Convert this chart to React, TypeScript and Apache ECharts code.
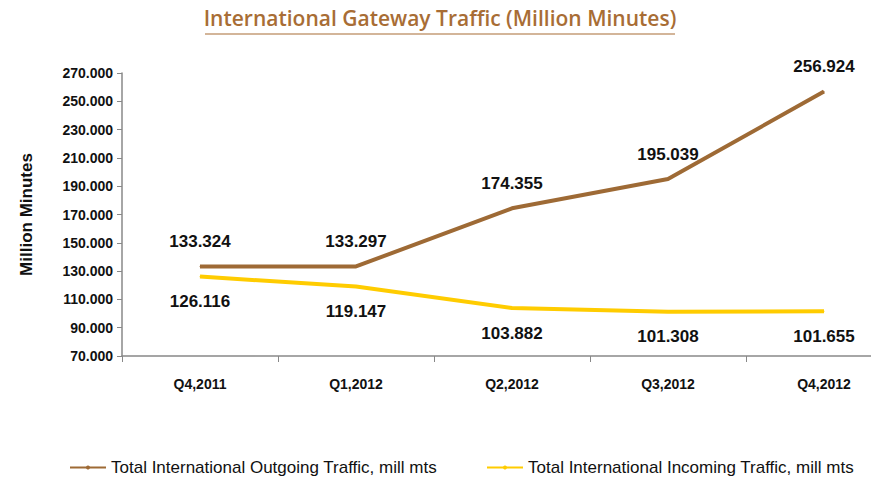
import React, { useEffect, useRef } from "react";
import * as echarts from "echarts";

const categories = ["Q4,2011", "Q1,2012", "Q2,2012", "Q3,2012", "Q4,2012"];
const outgoing = [133.324, 133.297, 174.355, 195.039, 256.924];
const incoming = [126.116, 119.147, 103.882, 101.308, 101.655];
const seriesNames = [
  "Total International Outgoing Traffic, mill mts",
  "Total International Incoming Traffic, mill mts",
];
const titleText = "International Gateway Traffic (Million Minutes)";
const yAxisName = "Million Minutes";

const FONT = "'Liberation Sans', Arial, sans-serif";
const BROWN = "#9E6A35";
const YELLOW = "#FFCC00";

export default function App() {
  const ref = useRef<HTMLDivElement>(null);
  useEffect(() => {
    if (!ref.current) return;
    const chart = echarts.init(ref.current, undefined, { renderer: "svg" });
    const fmt = (v: number) => v.toFixed(3);
    const legendText = { fontFamily: FONT, fontSize: 17, color: "#111" };
    const legendCommon = {
      top: 454,
      itemWidth: 36,
      itemHeight: 5,
      itemGap: 0,
      lineStyle: { width: 2 },
      textStyle: legendText,
    };
    chart.setOption({
      animation: false,
      backgroundColor: "#ffffff",
      graphic: [
        {
          type: "text",
          x: 440,
          y: 7,
          style: {
            text: titleText,
            fill: "#A86D35",
            font: "600 21px 'Open Sans', sans-serif",
            textAlign: "center",
          },
        },
        {
          type: "line",
          shape: { x1: 205, y1: 34, x2: 675, y2: 34 },
          style: { stroke: "#A86D35", lineWidth: 1.2 },
        },
      ],
      grid: { left: 122, right: 8, top: 73, bottom: 122, containLabel: false },
      legend: [
        { ...legendCommon, left: 64, data: [seriesNames[0]] },
        { ...legendCommon, left: 481, data: [seriesNames[1]] },
      ],
      xAxis: {
        type: "category",
        data: categories,
        boundaryGap: true,
        axisLine: { lineStyle: { color: "#888", width: 1.5 } },
        axisTick: { show: true, length: 6, lineStyle: { color: "#888" } },
        axisLabel: {
          fontFamily: FONT,
          fontWeight: "bold",
          fontSize: 14,
          color: "#111",
          margin: 21,
        },
      },
      yAxis: {
        type: "value",
        min: 70,
        max: 270,
        interval: 20,
        name: yAxisName,
        nameLocation: "middle",
        nameGap: 87,
        nameRotate: 90,
        nameTextStyle: { fontFamily: FONT, fontWeight: "bold", fontSize: 17, color: "#111" },
        axisLine: { show: true, lineStyle: { color: "#888", width: 1.5 } },
        axisTick: { show: true, length: 5, lineStyle: { color: "#888" } },
        splitLine: { show: false },
        axisLabel: {
          formatter: (v: number) => fmt(v),
          fontFamily: FONT,
          fontWeight: "bold",
          fontSize: 14,
          color: "#111",
          margin: 9,
        },
      },
      series: [
        {
          name: seriesNames[0],
          type: "line",
          data: outgoing,
          symbol: "circle",
          symbolSize: 1,
          showSymbol: true,
          lineStyle: { color: BROWN, width: 4 },
          itemStyle: { color: BROWN },
          label: {
            show: true,
            position: "top",
            distance: 16,
            formatter: (p: any) => fmt(p.value),
            fontFamily: FONT,
            fontWeight: "bold",
            fontSize: 17,
            color: "#111",
          },
        },
        {
          name: seriesNames[1],
          type: "line",
          data: incoming,
          symbol: "circle",
          symbolSize: 1,
          showSymbol: true,
          lineStyle: { color: YELLOW, width: 4 },
          itemStyle: { color: YELLOW },
          label: {
            show: true,
            position: "bottom",
            distance: 16,
            formatter: (p: any) => fmt(p.value),
            fontFamily: FONT,
            fontWeight: "bold",
            fontSize: 17,
            color: "#111",
          },
        },
      ],
    });
    return () => chart.dispose();
  }, []);
  return (
    <div
      style={{
        position: "absolute",
        left: 0,
        top: 0,
        width: 871,
        height: 478,
        overflow: "hidden",
      }}
    >
      <div ref={ref} style={{ width: 910, height: 478 }} />
    </div>
  );
}
